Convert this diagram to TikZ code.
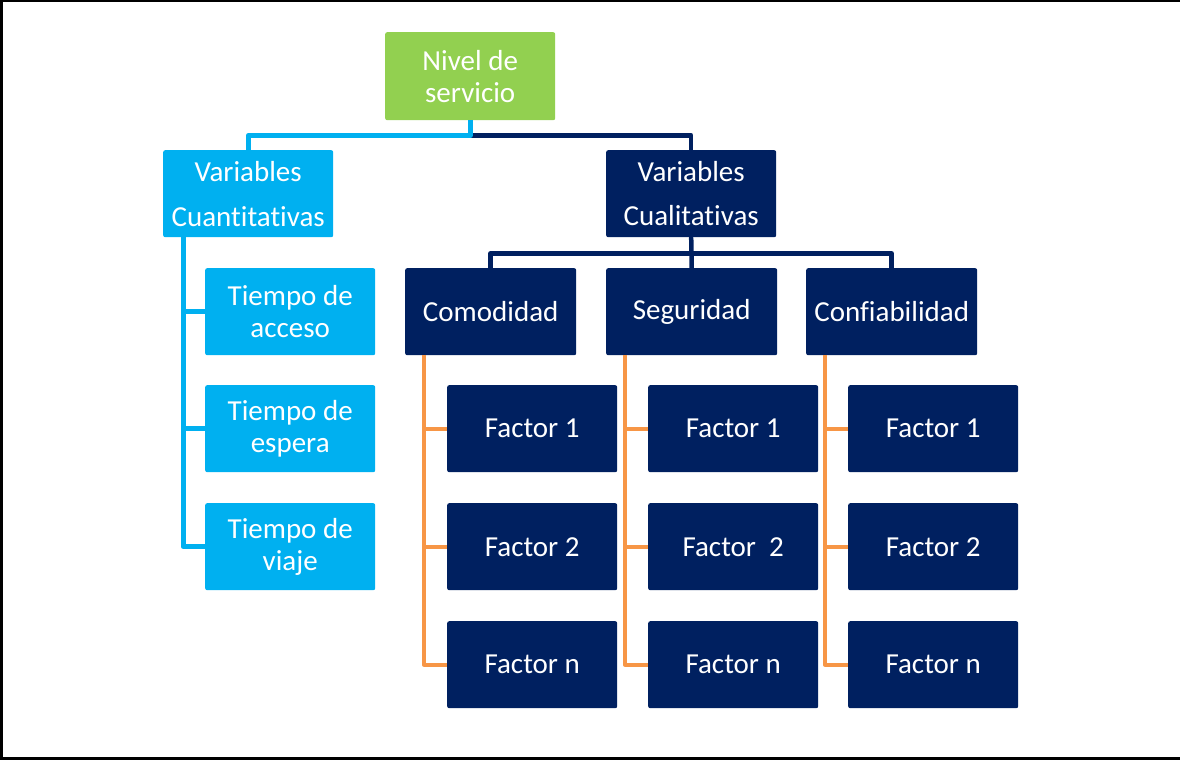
\documentclass[tikz,border=0pt]{standalone}
\usepackage{fontspec}
\setmainfont{Carlito}[Ligatures={NoCommon,NoRequired,NoContextual,NoRare}]
\usetikzlibrary{positioning}
\definecolor{lvgreen}{HTML}{92D050}
\definecolor{lvcyan}{HTML}{00B0F0}
\definecolor{lvnavy}{HTML}{002060}
\definecolor{lvorange}{HTML}{F79646}
\begin{document}
\begin{tikzpicture}[x=1pt,y=-1pt,
  box/.style={rectangle, rounded corners=2pt, anchor=north west, inner sep=0pt,
    minimum width=171pt, minimum height=87pt, text=white, align=center,
    font=\fontsize{29}{32}\selectfont},
  greenbox/.style={box, fill=lvgreen},
  cyanbox/.style={box, fill=lvcyan},
  navybox/.style={box, fill=lvnavy},
  cyanline/.style={draw=lvcyan, line width=5pt, line join=round},
  navyline/.style={draw=lvnavy, line width=4.5pt, line join=round},
  orangeline/.style={draw=lvorange, line width=4pt, line join=round}]
\useasboundingbox (0,0) rectangle (1180,760);
% frame on three sides
\draw[line width=3pt] (1180,1) -- (1,1) -- (1,758.5) -- (1180,758.5);

% top level
\node[greenbox, minimum width=170pt, minimum height=88pt] (nivel) at (385,32) {Nivel de\\servicio};

% second level
\node[cyanbox, minimum width=170pt] (cuant) at (163,150) {Variables\\[13pt]Cuantitativas};
\node[navybox, minimum width=170pt] (cual) at (606,150) {Variables\\[12pt]Cualitativas};

% quantitative items
\node[cyanbox, minimum width=170pt] (t1) at (205,268) {Tiempo de\\acceso};
\node[cyanbox, minimum width=170pt] (t2) at (205,385) {Tiempo de\\espera};
\node[cyanbox, minimum width=170pt] (t3) at (205,503) {Tiempo de\\viaje};

% qualitative groups
\node[navybox] (como) at (405,268) {Comodidad};
\node[navybox] (segu) at (606,268) {Seguridad};
\node[navybox] (conf) at (806,268) {Confiabilidad};

% factors
\node[navybox, minimum width=170pt] (c1) at (447,385) {Factor 1};
\node[navybox, minimum width=170pt] (c2) at (447,503) {Factor 2};
\node[navybox, minimum width=170pt] (c3) at (447,621) {Factor n};
\node[navybox, minimum width=170pt] (s1) at (648,385) {Factor 1};
\node[navybox, minimum width=170pt] (s2) at (648,503) {Factor\ \ 2};
\node[navybox, minimum width=170pt] (s3) at (648,621) {Factor n};
\node[navybox, minimum width=170pt] (f1) at (848,385) {Factor 1};
\node[navybox, minimum width=170pt] (f2) at (848,503) {Factor 2};
\node[navybox, minimum width=170pt] (f3) at (848,621) {Factor n};

% connectors from the top
\draw[navyline] (nivel.south) -- ++(0,15) -| (cual.north);
\draw[cyanline] (nivel.south) -- ++(0,15) -| (cuant.north);

% qualitative branches
\draw[navyline] (cual.south) -- ++(0,16) -| (como.north);
\draw[navyline] (cual.south) -- ++(0,16) -| (conf.north);
\draw[navyline] (cual.south) -- (segu.north);

% quantitative list
\draw[cyanline] ([xshift=20pt]cuant.south west) |- (t3.west);
\draw[cyanline] ([xshift=20pt]cuant.south west |- t1.west) -- (t1.west);
\draw[cyanline] ([xshift=20pt]cuant.south west |- t2.west) -- (t2.west);

% factor lists
\foreach \g/\a/\b/\c in {como/c1/c2/c3, segu/s1/s2/s3, conf/f1/f2/f3}{
  \draw[orangeline] ([xshift=19pt]\g.south west) |- (\c.west);
  \draw[orangeline] ([xshift=19pt]\g.south west |- \a.west) -- (\a.west);
  \draw[orangeline] ([xshift=19pt]\g.south west |- \b.west) -- (\b.west);
}
\end{tikzpicture}
\end{document}
